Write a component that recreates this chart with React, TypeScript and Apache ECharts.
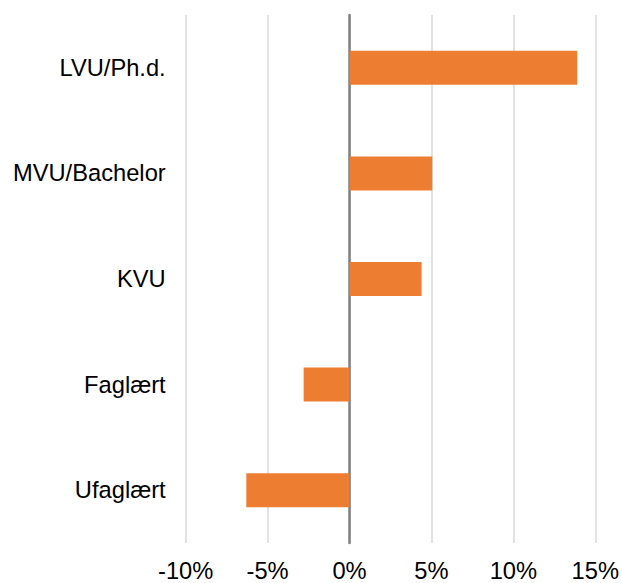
import React, { useEffect, useRef } from "react";
import * as echarts from "echarts";

const categories = ["Ufaglært", "Faglært", "KVU", "MVU/Bachelor", "LVU/Ph.d."];
const values = [-6.3, -2.8, 4.4, 5.05, 13.9];
const xMin = -10;
const xMax = 15;
const xStep = 5;

export default function App() {
  const ref = useRef<HTMLDivElement>(null);
  useEffect(() => {
    document.body.style.margin = "0";
    const chart = echarts.init(ref.current!, null, { renderer: "svg" });
    chart.setOption({
      animation: false,
      backgroundColor: "#ffffff",
      textStyle: { fontFamily: "Liberation Sans, Arial, sans-serif" },
      grid: { left: 185.7, right: 25.3, top: 15, bottom: 38, containLabel: false },
      xAxis: {
        type: "value",
        min: xMin,
        max: xMax,
        interval: xStep,
        axisLine: { show: false },
        axisTick: { show: false },
        axisLabel: {
          formatter: "{value}%",
          fontSize: 23.7,
          color: "#000000",
          margin: 16,
        },
        splitLine: { show: true, lineStyle: { color: "#d9d9d9", width: 1.5 } },
      },
      yAxis: {
        type: "category",
        data: categories,
        axisLine: { show: true, onZero: true, lineStyle: { color: "#808080", width: 2.5 } },
        axisTick: { show: false },
        axisLabel: {
          fontSize: 23.7,
          color: "#000000",
          margin: 20,
        },
        splitLine: { show: false },
      },
      series: [
        {
          type: "bar",
          data: values,
          barWidth: 34,
          itemStyle: { color: "#ED7D31" },
        },
      ],
    });
    return () => chart.dispose();
  }, []);
  return <div ref={ref} style={{ width: 622, height: 583 }} />;
}
